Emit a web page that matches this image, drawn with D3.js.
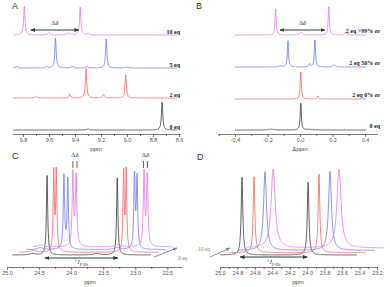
<!DOCTYPE html>
<html>
<head>
<meta charset="utf-8">
<script src="https://cdnjs.cloudflare.com/ajax/libs/d3/7.8.5/d3.min.js"></script>
<style>
  body { margin: 0; background: #fff; }
  svg { display: block; }
  .tick text { font-family: "Liberation Sans", Arial, sans-serif; font-size: 5.5px; fill: #555; }
  .tick line, .domain { stroke: #444; stroke-width: 0.7; }
</style>
</head>
<body>
<svg id="fig"></svg>
<script>
// trace colours: 0 eq, 2 eq, 5 eq, 10 eq
const traceColors = ['#3a3a3a', '#f0676a', '#6b7bef', '#e479e6'];

// ---- panel A: 1H, titration ----
const aLabels = ['0 eq', '2 eq', '5 eq', '10 eq'];
// [ppm, height, half width (ppm)]
const aPeaks = [
    [[8.73, 28, 0.006], [9.30, 1, 0.01]],
    [[9.315, 30, 0.006], [9.01, 23, 0.006], [9.44, 4, 0.006], [9.18, 3.5, 0.008], [9.70, 1.5, 0.01]],
    [[9.55, 30, 0.006], [9.16, 29, 0.006], [9.42, 2, 0.008], [9.31, 2, 0.008], [9.62, 2, 0.008], [9.00, 1, 0.01], [9.85, 1.5, 0.01]],
    [[9.79, 29, 0.006], [9.36, 28, 0.006], [9.60, 2.5, 0.01], [9.45, 2, 0.01], [9.30, 1.5, 0.01]]
];
const aMajor = [9.8, 9.6, 9.4, 9.2, 9.0, 8.8, 8.6];
const aMinor = [9.7, 9.5, 9.3, 9.1, 8.9, 8.7];
const aDelta = [9.74, 9.37];

// ---- panel B: 1H, ee ----
const bLabels = ['0 eq', '2 eq 0% ', '2 eq 50% ', '2 eq >99% '];
const bPeaks = [
    [[0.005, 28, 0.004], [-0.18, 0.8, 0.02], [0.06, 0.6, 0.02]],
    [[0.005, 28, 0.004], [0.11, 3, 0.005]],
    [[-0.074, 27, 0.004], [0.092, 28, 0.004], [0.06, 3, 0.006], [0.21, 2, 0.008], [-0.12, 1, 0.01]],
    [[-0.150, 27, 0.004], [0.177, 29, 0.004], [0.01, 3, 0.008], [0.28, 3, 0.005]]
];
const bMajor = [-0.4, -0.2, 0.0, 0.2, 0.4];
const bMinor = [-0.5, -0.3, -0.1, 0.1, 0.3];
const bDelta = [-0.123, 0.154];

// ---- panel C: 31P stacked ----
const cPeaks = [
    [[24.375, 80, 0.012], [23.28, 78, 0.012], [24.6, 1.5, 0.05], [23.6, 1.5, 0.05]],
    [[24.38, 80, 0.011], [24.34, 80, 0.011], [23.29, 80, 0.011], [23.25, 80, 0.011], [24.7, 2, 0.05]],
    [[24.33, 75, 0.012], [24.27, 70, 0.012], [23.23, 75, 0.012], [23.19, 70, 0.012], [24.7, 2, 0.04], [23.5, 2, 0.05]],
    [[24.30, 73, 0.013], [24.25, 71, 0.013], [23.19, 73, 0.013], [23.14, 71, 0.013], [24.8, 2, 0.04], [23.6, 2, 0.05]]
];
const cMajor = [25.0, 24.5, 24.0, 23.5, 23.0, 22.5];
const cMinor = [24.75, 24.25, 23.75, 23.25, 22.75];
const cSpan = [24.92, 22.75];
const cJ = [24.41, 23.27];
const cDelta = [23.94, 22.84];

// ---- panel D: 31P stacked ----
const dPeaks = [
    [[24.748, 78, 0.011], [23.99, 73, 0.011]],
    [[24.713, 76, 0.011], [23.968, 80, 0.011]],
    [[24.69, 79, 0.02], [23.945, 79, 0.02]],
    [[24.70, 79, 0.028], [23.945, 79, 0.028]]
];
const dMajor = [25.0, 24.8, 24.6, 24.4, 24.2, 24.0, 23.8, 23.6, 23.4, 23.2];
const dMinor = [24.9, 24.7, 24.5, 24.3, 24.1, 23.9, 23.7, 23.5, 23.3];
const dSpan = [25.0, 23.43];
const dJ = [24.77, 24.0];

const width = 390, height = 287;
const svg = d3.select('#fig').attr('width', width).attr('height', height);

const serif = '"Liberation Serif", "Times New Roman", serif';
const sans = '"Liberation Sans", Arial, sans-serif';

// lorentzian line built from the peak list
function spectrum(peaks, span, x) {
    const step = Math.abs(x.invert(0.3) - x.invert(0));
    const lo = Math.min(span[0], span[1]), hi = Math.max(span[0], span[1]);
    const pts = [];
    for (let p = lo; p <= hi; p += step) {
        let v = 0;
        peaks.forEach(function (pk) {
            const g = pk[2];
            v += pk[1] * g * g / ((p - pk[0]) * (p - pk[0]) + g * g);
        });
        pts.push([p, v]);
    }
    return pts;
}

function drawAxis(x, y0, major, minor, fmt, title, titleX) {
    svg.append('g')
        .attr('transform', 'translate(0,' + y0 + ')')
        .call(d3.axisBottom(x).tickValues(minor).tickSize(2).tickFormat('').tickSizeOuter(0));
    const g = svg.append('g')
        .attr('transform', 'translate(0,' + y0 + ')')
        .call(d3.axisBottom(x).tickValues(major).tickSize(3).tickPadding(1.5).tickFormat(fmt).tickSizeOuter(0));
    g.select('.domain').remove();
    svg.append('text')
        .attr('x', titleX).attr('y', y0 + 17)
        .attr('text-anchor', 'middle')
        .style('font-family', sans).style('font-size', '6px').style('fill', '#444')
        .text(title);
}

function drawTraces(x, peaksList, span, bases, dx) {
    peaksList.forEach(function (peaks, i) {
        const line = d3.line()
            .x(d => x(d[0]) + dx * i)
            .y(d => bases[i] - d[1]);
        svg.append('path')
            .datum(spectrum(peaks, span, x))
            .attr('d', line)
            .attr('fill', 'none')
            .attr('stroke', traceColors[i])
            .attr('stroke-width', 0.8);
    });
}

function panelLetter(t, x, y) {
    svg.append('text').attr('x', x).attr('y', y)
        .style('font-family', sans).style('font-size', '9px').style('fill', '#333')
        .text(t);
}

// arrow heads
const defs = svg.append('defs');
function marker(id, color) {
    defs.append('marker').attr('id', id)
        .attr('viewBox', '0 0 10 10').attr('refX', 9).attr('refY', 5)
        .attr('markerWidth', 5).attr('markerHeight', 5).attr('orient', 'auto-start-reverse')
        .append('path').attr('d', 'M0,1L10,5L0,9Z').attr('fill', color);
}
marker('ah', '#21403b');
marker('ag', '#6f8f8a');

function dblArrow(x1, x2, y) {
    svg.append('line').attr('x1', x1).attr('x2', x2).attr('y1', y).attr('y2', y)
        .attr('stroke', '#21403b').attr('stroke-width', 1)
        .attr('marker-start', 'url(#ah)').attr('marker-end', 'url(#ah)');
}

function deltaLabel(xc, y) {
    const t = svg.append('text').attr('x', xc).attr('y', y).attr('text-anchor', 'middle')
        .style('font-family', serif).style('font-size', '6.5px').style('fill', '#333');
    t.append('tspan').text('Δ');
    t.append('tspan').style('font-style', 'italic').text('δ');
}

function jLabel(xc, y) {
    const t = svg.append('text').attr('x', xc).attr('y', y).attr('text-anchor', 'middle')
        .style('font-family', serif).style('font-size', '6.5px').style('fill', '#333');
    t.append('tspan').attr('dy', -2).style('font-size', '4px').text('1');
    t.append('tspan').attr('dy', 2).style('font-style', 'italic').text('J');
    t.append('tspan').attr('dy', 1.5).style('font-size', '4px').text('P-Rh');
}

// ===== A =====
const xA = d3.scaleLinear().domain([9.88, 8.59]).range([12.6, 180.3]);
const aBase = [130, 98, 68, 35];
drawTraces(xA, aPeaks, [9.877, 8.615], aBase, 0);
drawAxis(xA, 134, aMajor, aMinor, d => d.toFixed(1), 'ppm', 96);
aLabels.forEach(function (l, i) {
    svg.append('text').attr('x', 180).attr('y', aBase[i] - 1.5).attr('text-anchor', 'end')
        .style('font-family', serif).style('font-size', '6px').style('font-weight', 'bold').style('fill', '#222')
        .text(l);
});
dblArrow(xA(aDelta[0]), xA(aDelta[1]), 30);
deltaLabel((xA(aDelta[0]) + xA(aDelta[1])) / 2, 25);
panelLetter('A', 12, 9);

// ===== B =====
const xB = d3.scaleLinear().domain([-0.505, 0.475]).range([217.9, 377.2]);
const bBase = [130, 99, 67, 35];
drawTraces(xB, bPeaks, [-0.4, 0.41], bBase, 0);
drawAxis(xB, 134, bMajor, bMinor, d => d.toFixed(1), 'Δppm', 300);
bLabels.forEach(function (l, i) {
    const t = svg.append('text').attr('x', 380).attr('y', bBase[i] - 2).attr('text-anchor', 'end')
        .style('font-family', serif).style('font-size', '6px').style('font-weight', 'bold').style('fill', '#222');
    t.append('tspan').text(l);
    if (i > 0) t.append('tspan').style('font-style', 'italic').text('ee');
});
dblArrow(xB(bDelta[0]), xB(bDelta[1]), 30);
deltaLabel((xB(bDelta[0]) + xB(bDelta[1])) / 2, 25);
panelLetter('B', 196, 9);

// ===== C =====
const xC = d3.scaleLinear().domain([25.0, 22.27]).range([7, 182]);
const cBase = [255, 252.3, 249.6, 246.9];
drawTraces(xC, cPeaks, cSpan, cBase, 7);
drawAxis(xC, 267, cMajor, cMinor, d => d.toFixed(1), 'ppm', 90);
dblArrow(xC(cJ[0]), xC(cJ[1]), 258);
jLabel((xC(cJ[0]) + xC(cJ[1])) / 2, 264);
cDelta.forEach(function (p) {
    const xc = xC(p);
    deltaLabel(xc, 157);
    [-2, 2].forEach(function (o) {
        svg.append('line').attr('x1', xc + o).attr('x2', xc + o).attr('y1', 161).attr('y2', 168)
            .attr('stroke', '#333').attr('stroke-width', 0.8);
    });
});
svg.append('line').attr('x1', xC(cSpan[1]) + 3).attr('y1', 257).attr('x2', 177).attr('y2', 248)
    .attr('stroke', '#6f8f8a').attr('stroke-width', 0.9).attr('marker-end', 'url(#ag)');
svg.append('text').attr('x', 178).attr('y', 260)
    .style('font-family', serif).style('font-size', '5.5px').style('fill', '#6f8f8a').text('0 eq');
panelLetter('C', 12, 159);

// ===== D =====
const xD = d3.scaleLinear().domain([25.0, 23.2]).range([220, 377]);
const dBase = [255, 252.7, 250.4, 248.1];
drawTraces(xD, dPeaks, dSpan, dBase, 9);
drawAxis(xD, 267, dMajor, dMinor, d => d.toFixed(1), 'ppm', 298);
dblArrow(xD(dJ[0]), xD(dJ[1]), 257);
jLabel((xD(dJ[0]) + xD(dJ[1])) / 2, 264);
svg.append('line').attr('x1', 210).attr('y1', 257).attr('x2', xD(dSpan[0]) + 10).attr('y2', 248)
    .attr('stroke', '#6f8f8a').attr('stroke-width', 0.9).attr('marker-end', 'url(#ag)');
svg.append('text').attr('x', 210).attr('y', 251).attr('text-anchor', 'end')
    .style('font-family', serif).style('font-size', '5.5px').style('fill', '#6f8f8a').text('10 eq');
panelLetter('D', 197, 160);
</script>
</body>
</html>
